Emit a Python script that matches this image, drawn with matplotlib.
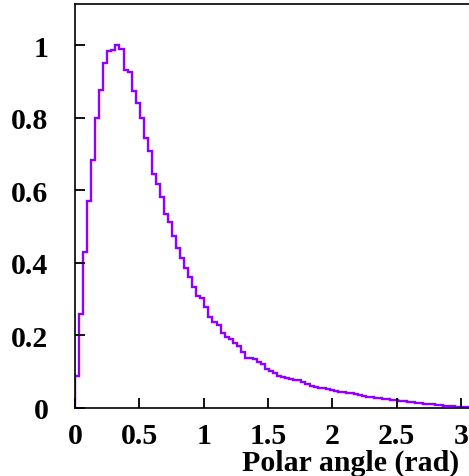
import numpy as np
import matplotlib
matplotlib.use("Agg")
import matplotlib.pyplot as plt

# Histogram of polar angle: 100 bins over [0, pi]
n_bins = 100
x_max = np.pi
counts = [
    0.088, 0.260, 0.430, 0.570, 0.684, 0.800, 0.876, 0.951, 0.983, 0.986,
    1.000, 0.989, 0.931, 0.925, 0.873, 0.839, 0.800, 0.745, 0.707, 0.645,
    0.617, 0.580, 0.534, 0.512, 0.475, 0.440, 0.413, 0.385, 0.360, 0.332,
    0.309, 0.302, 0.277, 0.250, 0.237, 0.229, 0.206, 0.196, 0.190, 0.180,
    0.172, 0.153, 0.139, 0.137, 0.135, 0.126, 0.120, 0.108, 0.102, 0.097,
    0.088, 0.085, 0.082, 0.080, 0.078, 0.076, 0.072, 0.066, 0.061, 0.058,
    0.056, 0.054, 0.052, 0.049, 0.048, 0.045, 0.044, 0.041, 0.040, 0.038,
    0.036, 0.034, 0.031, 0.030, 0.028, 0.027, 0.026, 0.024, 0.023, 0.021,
    0.020, 0.018, 0.017, 0.016, 0.015, 0.014, 0.012, 0.011, 0.010, 0.009,
    0.007, 0.006, 0.006, 0.005, 0.004, 0.004, 0.003, 0.002, 0.002, 0.001,
]
x_ticks = [0, 0.5, 1, 1.5, 2, 2.5, 3]
x_tick_labels = ["0", "0.5", "1", "1.5", "2", "2.5", "3"]
y_ticks = [0, 0.2, 0.4, 0.6, 0.8, 1.0]
y_tick_labels = ["0", "0.2", "0.4", "0.6", "0.8", "1"]
x_label = "Polar angle (rad)"

edges = np.linspace(0, x_max, n_bins + 1)

W, H = 469, 477
fig = plt.figure(figsize=(W / 100, H / 100), dpi=100)
ax_w = x_max * 128.7
ax = fig.add_axes([75 / W, 68 / H, ax_w / W, 404 / H])

ax.stairs(counts, edges, color="#9000ff", lw=1.7, baseline=0)

ax.set_xlim(0, x_max)
ax.set_ylim(0, 1.113)

font = dict(family="Liberation Serif", weight="bold", size=21.5)
ax.set_xticks(x_ticks)
ax.set_xticklabels(x_tick_labels, fontdict=font)
ax.set_yticks(y_ticks)
ax.set_yticklabels(y_tick_labels, fontdict=font)

ax.tick_params(axis="both", direction="in", length=7.5, width=1.3, color="black")
ax.tick_params(axis="x", pad=10)
ax.tick_params(axis="y", pad=19)
for sp in ax.spines.values():
    sp.set_linewidth(1.2)

fig.text(459 / W, 1 - 463 / H, x_label, ha="right", va="center",
         family="Liberation Serif", weight="bold", size=21.5)

fig.savefig("out.png", dpi=100)
